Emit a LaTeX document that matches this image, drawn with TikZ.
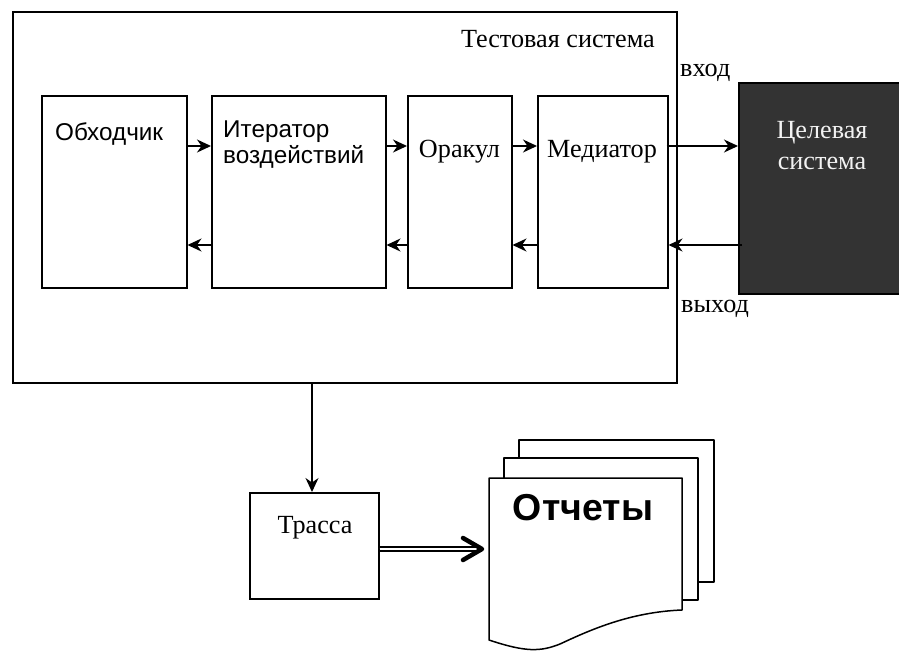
\documentclass[tikz,border=0pt]{standalone}
\usepackage{fontspec}
\setmainfont{Liberation Serif}
\newfontfamily\arialfont{Liberation Sans}
\usetikzlibrary{arrows.meta,calc}
\definecolor{darkbox}{HTML}{333333}
\definecolor{lighttext}{HTML}{F2F2F2}
\begin{document}
\begin{tikzpicture}[x=1pt,y=-1pt,
  box/.style={draw, line width=1.5pt, inner sep=0pt, anchor=north west, fill=white},
  arr/.style={line width=1.4pt, -{Stealth[length=14pt,width=13pt,inset=4.5pt]}},
  txt/.style={inner sep=0pt},
  serif/.style={font=\fontsize{26.2}{31}\selectfont},
  sans/.style={font=\arialfont\fontsize{24.3}{26}\selectfont},
]
\useasboundingbox (0,0) rectangle (899,651);
% outer test system
\node[box, minimum width=664pt, minimum height=371pt] (ts) at (12,11) {};
% inner boxes
\node[box, minimum width=145pt, minimum height=192pt] (obh) at (41,95) {};
\node[box, minimum width=174pt, minimum height=192pt] (iter) at (211,95) {};
\node[box, minimum width=104pt, minimum height=192pt] (orak) at (407,95) {};
\node[box, minimum width=130pt, minimum height=192pt] (med) at (537,95) {};
% target system
\node[box, fill=darkbox, minimum width=165pt, minimum height=211pt] (tgt) at (738,82) {};
% trace
\node[box, minimum width=129pt, minimum height=106pt] (trace) at (249,492) {};

% texts
\node[txt, serif, anchor=base east] (tstitle) at (655,47) {Тестовая система};
\node[txt, serif, anchor=base west] (vhod) at (680,76) {вход};
\node[txt, serif, anchor=base west] (vyhod) at (681,312) {выход};
\node[txt, sans, anchor=base west] (tobh) at (55,140) {Обходчик};
\node[txt, sans, anchor=base west] (titer1) at (223,137) {Итератор};
\node[txt, sans, anchor=base west] (titer2) at (223,163) {воздействий};
\node[txt, serif, anchor=base] (torak) at (459.5,157) {Оракул};
\node[txt, serif, anchor=base] (tmed) at (602,157) {Медиатор};
\node[txt, serif, anchor=base, text=lighttext] (ttgt1) at (822,138) {Целевая};
\node[txt, serif, anchor=base, text=lighttext] (ttgt2) at (822,169) {система};
\node[txt, serif, anchor=base] (ttrace) at (315,533) {Трасса};

% arrows
\coordinate (fy) at (0,146);
\coordinate (by) at (0,245);
\draw[arr] (obh.east |- fy) -- (iter.west |- fy);
\draw[arr] (iter.east |- fy) -- (orak.west |- fy);
\draw[arr] (orak.east |- fy) -- (med.west |- fy);
\draw[arr] ($(med.east |- fy)+(-2,0)$) -- (tgt.west |- fy);
\draw[arr] (iter.west |- by) -- (obh.east |- by);
\draw[arr] (orak.west |- by) -- (iter.east |- by);
\draw[arr] (med.west |- by) -- (orak.east |- by);
\draw[arr] ($(tgt.west |- by)+(4,0)$) -- (med.east |- by);

% vertical arrow to trace
\coordinate (vx) at (312,0);
\draw[arr, line width=1.2pt] (ts.south -| vx) -- (trace.north -| vx);

% report stack
\begin{scope}[line width=1.5pt, line join=round]
  \filldraw[fill=white] (519,440) rectangle (714,582);
  \filldraw[fill=white] (504,458) rectangle (698,600);
  \filldraw[fill=white] (489,478) -- (682,478) -- (682,610)
     .. controls (630,612) and (590,630) .. (560,644)
     .. controls (540,652) and (525,652) .. (489,640) -- cycle;
\end{scope}
\node[txt, font=\arialfont\bfseries\fontsize{37.5}{40}\selectfont, anchor=base] (rep) at (583,520) {Отчеты};
\coordinate (repw) at (489,549);

% double arrow trace -> reports
\coordinate (dy) at (0,549);
\draw[double, double distance=2pt, line width=1.7pt] (trace.east |- dy) -- ($(repw)+(-10,0)$);
\draw[line width=4.5pt, line cap=round, line join=round]
  ($(repw)+(-26,-11)$) -- ($(repw)+(-7,0)$) -- ($(repw)+(-26,11)$);
\end{tikzpicture}
\end{document}
